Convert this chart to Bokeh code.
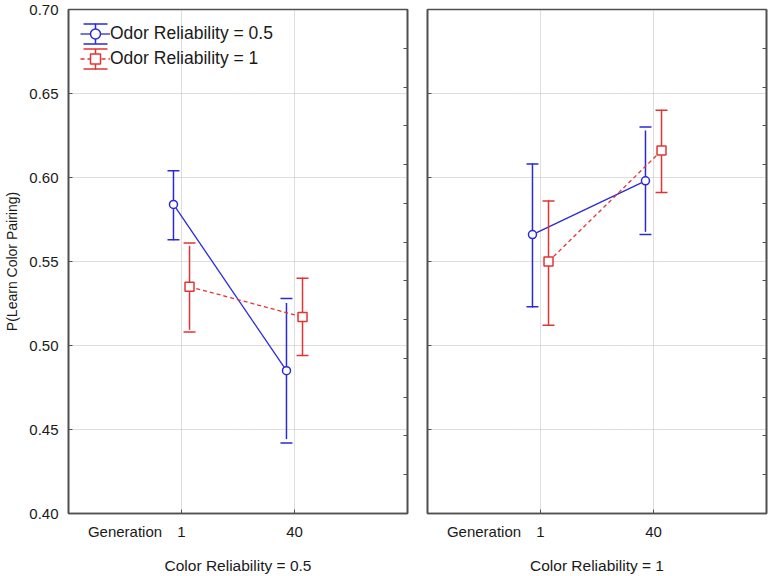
from bokeh.plotting import figure
from bokeh.layouts import row
from bokeh.models import (ColumnDataSource, Range1d, LinearAxis, FixedTicker,
                          NumeralTickFormatter, Legend, LegendItem,
                          CustomJSTickFormatter)
from bokeh.transform import dodge
from bokeh.embed import file_html
from bokeh.resources import INLINE

# ---------------- data ----------------
generations = ["1", "40"]
panel_titles = ["Color Reliability = 0.5", "Color Reliability = 1"]
series_names = ["Odor Reliability = 0.5", "Odor Reliability = 1"]
x_axis_name = "Generation"
y_axis_name = "P(Learn Color Pairing)"
y_ticks = [0.40, 0.45, 0.50, 0.55, 0.60, 0.65, 0.70]

# Odor Reliability = 0.5 (blue)
odor05_mean_c05 = [0.584, 0.485]
odor05_low_c05 = [0.563, 0.442]
odor05_high_c05 = [0.604, 0.528]
odor05_mean_c1 = [0.566, 0.598]
odor05_low_c1 = [0.523, 0.566]
odor05_high_c1 = [0.608, 0.630]

# Odor Reliability = 1 (red)
odor1_mean_c05 = [0.535, 0.517]
odor1_low_c05 = [0.508, 0.494]
odor1_high_c05 = [0.561, 0.540]
odor1_mean_c1 = [0.550, 0.616]
odor1_low_c1 = [0.512, 0.591]
odor1_high_c1 = [0.586, 0.640]

# ---------------- style ----------------
FONT = "Liberation Sans"
TXT = "#1a1a1a"
EDGE = "#505050"
BLUE = "#2a2ad6"
RED = "#e23434"
FRAME_W = 339
DODGE = 0.071
CAP = 0.106
CAP_DASH = "24 20"     # shows only the top/bottom edges of the legend's whisker box
y_range = Range1d(0.40, 0.70)
blank = CustomJSTickFormatter(code="return ''")

gen_pos = list(range(1, len(generations) + 1))      # category slots on the x axis
name_pos = 0.5                                       # slot of the "Generation" caption
x_labels = {name_pos: x_axis_name}
x_labels.update({pos: g for pos, g in zip(gen_pos, generations)})


def make_source(mean, low, high):
    return ColumnDataSource(dict(
        pos=gen_pos, mean=mean, low=low, high=high,
        mid=[(a + b) / 2 for a, b in zip(low, high)],
        span=[b - a for a, b in zip(low, high)],
    ))


def add_series(p, src, color, offset, marker, dash):
    ln = p.line(x=dodge("pos", offset), y="mean", source=src,
                line_color=color, line_width=1.3, line_dash=dash)
    cap_hi = p.quad(left=dodge("pos", offset - CAP / 2), right=dodge("pos", offset + CAP / 2),
                    top="high", bottom="high", source=src, fill_color=None,
                    line_color=color, line_width=1.5, line_dash=CAP_DASH)
    p.quad(left=dodge("pos", offset - CAP / 2), right=dodge("pos", offset + CAP / 2),
           top="low", bottom="low", source=src, fill_color=None,
           line_color=color, line_width=1.5, line_dash=CAP_DASH)
    stem = p.ellipse(x=dodge("pos", offset), y="mid", width=1e-4, height="span",
                     source=src, fill_color=None, line_color=color, line_width=1.5)
    mk = p.scatter(x=dodge("pos", offset), y="mean", source=src, marker=marker,
                   size=8 if marker == "circle" else 9, fill_color="white",
                   line_color=color, line_width=1.5)
    return [ln, cap_hi, stem, mk]


def make_panel(title, blue_data, red_data, first):
    left = 68 if first else 10
    right = 10 if first else 2
    p = figure(width=left + FRAME_W + right, height=576,
               x_range=Range1d(0, len(generations) + 1),
               y_range=y_range, output_backend="svg", toolbar_location=None,
               min_border_left=left, min_border_right=right,
               min_border_top=9, min_border_bottom=63)
    p.background_fill_color = "white"
    p.border_fill_color = "white"
    p.outline_line_color = EDGE
    p.outline_line_width = 1.6

    # x axis: caption + category labels, inward ticks only at the categories
    xa = p.xaxis[0]
    xa.ticker = FixedTicker(ticks=sorted(x_labels), minor_ticks=gen_pos)
    xa.major_label_overrides = x_labels
    xa.axis_label = title
    xa.axis_label_text_font = FONT
    xa.axis_label_text_font_size = "15.5px"
    xa.axis_label_text_font_style = "normal"
    xa.axis_label_text_color = TXT
    xa.axis_label_standoff = 14
    xa.major_label_text_font = FONT
    xa.major_label_text_font_size = "15px"
    xa.major_label_text_color = TXT
    xa.major_label_standoff = 9
    xa.major_tick_line_color = None
    xa.major_tick_in = 0
    xa.major_tick_out = 0
    xa.minor_tick_in = 4
    xa.minor_tick_out = 0
    xa.minor_tick_line_color = EDGE
    xa.axis_line_color = EDGE
    xa.axis_line_width = 1.6

    # grids
    p.xgrid.ticker = FixedTicker(ticks=gen_pos)
    p.xgrid.grid_line_color = "#bdbdbd"
    p.xgrid.grid_line_dash = "1 1"
    p.ygrid.grid_line_color = "#bdbdbd"
    p.ygrid.grid_line_dash = "1 1"

    # y axis
    ya = p.yaxis[0]
    ya.ticker = FixedTicker(ticks=y_ticks)
    ya.major_tick_in = 4
    ya.major_tick_out = 0
    ya.minor_tick_in = 0
    ya.minor_tick_out = 0
    ya.axis_line_color = EDGE
    ya.axis_line_width = 1.6
    ya.major_tick_line_color = EDGE
    if first:
        ya.formatter = NumeralTickFormatter(format="0.00")
        ya.major_label_text_font = FONT
        ya.major_label_text_font_size = "15px"
        ya.major_label_text_color = TXT
        ya.major_label_standoff = 10
        ya.axis_label = y_axis_name
        ya.axis_label_text_font = FONT
        ya.axis_label_text_font_size = "14px"
        ya.axis_label_text_font_style = "normal"
        ya.axis_label_text_color = TXT
        ya.axis_label_standoff = 6
    else:
        ya.formatter = blank
        ya.major_label_text_color = None
        ya.major_label_standoff = 0

    # right edge ticks (independent scale, no labels)
    p.extra_y_ranges = {"edge": Range1d(0, 13)}
    ra = LinearAxis(y_range_name="edge", ticker=FixedTicker(ticks=list(range(1, 13))),
                    formatter=blank, major_label_text_color=None, major_label_standoff=0,
                    major_tick_in=4, major_tick_out=0, minor_tick_in=0, minor_tick_out=0,
                    axis_line_color=EDGE, axis_line_width=1.6, major_tick_line_color=EDGE)
    p.add_layout(ra, "right")

    blue_src = make_source(*blue_data)
    red_src = make_source(*red_data)
    blue_r = add_series(p, blue_src, BLUE, -DODGE, "circle", "solid")
    red_r = add_series(p, red_src, RED, DODGE, "square", "4 3")

    if first:
        legend = Legend(items=[LegendItem(label=series_names[0], renderers=blue_r),
                               LegendItem(label=series_names[1], renderers=red_r)],
                        location="top_left", margin=12, padding=6, spacing=0,
                        glyph_width=30, glyph_height=25, label_standoff=0,
                        label_text_font=FONT, label_text_font_size="17.5px",
                        label_text_color=TXT, border_line_color=None,
                        background_fill_alpha=0)
        p.add_layout(legend)
    return p


p1 = make_panel(panel_titles[0],
                (odor05_mean_c05, odor05_low_c05, odor05_high_c05),
                (odor1_mean_c05, odor1_low_c05, odor1_high_c05), True)
p2 = make_panel(panel_titles[1],
                (odor05_mean_c1, odor05_low_c1, odor05_high_c1),
                (odor1_mean_c1, odor1_low_c1, odor1_high_c1), False)

layout = row(p1, p2)
open("out.html", "w").write(file_html(layout, INLINE))
